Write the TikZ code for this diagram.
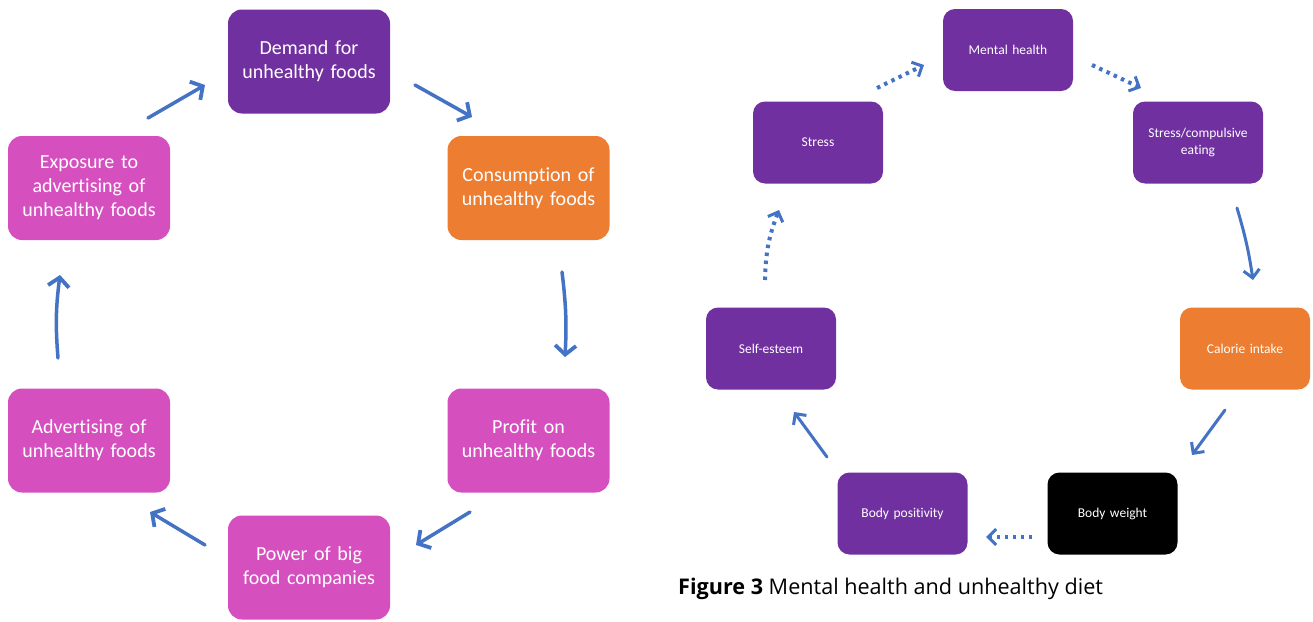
\documentclass[tikz,border=0pt]{standalone}
\usepackage{fontspec}
\setmainfont[Ligatures=NoCommon]{Carlito}
\newfontfamily\capfont{Open Sans}
\usetikzlibrary{arrows.meta,calc}
\definecolor{cpurple}{HTML}{7030A0}
\definecolor{corange}{HTML}{ED7D31}
\definecolor{cpink}{HTML}{D64FBF}
\definecolor{cblue}{HTML}{4472C4}
\begin{document}
\begin{tikzpicture}[x=1pt,y=-1pt,
  bigbox/.style={rounded corners=14pt, minimum width=162pt, minimum height=104pt,
    text width=150pt, align=center, text=white, inner sep=0pt,
    font=\fontsize{20}{24}\selectfont},
  smallbox/.style={rounded corners=12pt, minimum width=130pt, minimum height=82pt,
    text width=122pt, align=center, text=white, inner sep=0pt,
    font=\fontsize{13.5}{17}\selectfont},
  bigarr/.style={cblue, line width=3.5pt, line cap=round,
    -{Straight Barb[length=9pt,width=21pt,line width=3.8pt]}},
  smallarr/.style={cblue, line width=3pt, line cap=round,
    -{Straight Barb[length=8pt,width=16pt,line width=3pt]}},
  dotarr/.style={cblue, line width=4pt, dash pattern=on 3.5pt off 4.5pt,
    -{Straight Barb[length=8pt,width=16pt,line width=3pt]}}
]
\useasboundingbox (0,0) rectangle (1313,621);
\fill[white] (0,0) rectangle (1313,621);

% left diagram
\node[bigbox, fill=cpurple] (dem) at (309,61.5) {Demand for\\unhealthy foods};
\node[bigbox, fill=corange] (con) at (528.5,188) {Consumption of\\unhealthy foods};
\node[bigbox, fill=cpink] (exp) at (89,188) {Exposure to\\advertising of\\unhealthy foods};
\node[bigbox, fill=cpink] (adv) at (89,440.5) {Advertising of\\unhealthy foods};
\node[bigbox, fill=cpink] (pro) at (528.5,440.5) {Profit on\\unhealthy foods};
\node[bigbox, fill=cpink] (pow) at (309,567.5) {Power of big\\food companies};

\draw[bigarr] ($(exp.center)+(59,-70)$) -- ($(dem.center)+(-104,23.5)$);
\draw[bigarr] ($(dem.center)+(106,23.5)$) -- ($(con.center)+(-56.5,-71)$);
\draw[bigarr] ($(con.center)+(33.5,84)$) to[bend left=5] ($(pro.center)+(36.5,-83.5)$);
\draw[bigarr] ($(pro.center)+(-58.5,71.5)$) -- ($(pow.center)+(107,-22.5)$);
\draw[bigarr] ($(pow.center)+(-104,-22.5)$) -- ($(adv.center)+(61,71.5)$);
\draw[bigarr] ($(adv.center)+(-31,-82.5)$) to[bend left=6] ($(exp.center)+(-29,87)$);

% right diagram
\node[smallbox, fill=cpurple] (men) at (1008,50) {Mental health};
\node[smallbox, fill=cpurple] (str) at (818,142.5) {Stress};
\node[smallbox, fill=cpurple] (sce) at (1198,142.5) {Stress/compulsive\\eating};
\node[smallbox, fill=cpurple] (sel) at (771,348.5) {Self-esteem};
\node[smallbox, fill=corange] (cal) at (1245,348.5) {Calorie intake};
\node[smallbox, fill=cpurple] (bpo) at (902.5,513.5) {Body positivity};
\node[smallbox, fill=black] (bwe) at (1112.5,513.5) {Body weight};

\draw[dotarr] ($(str.center)+(59,-54.5)$) -- ($(men.center)+(-84,15)$);
\draw[dotarr] ($(men.center)+(84,15)$) -- ($(sce.center)+(-57,-54.5)$);
\draw[smallarr] ($(sce.center)+(39,65.5)$) to[bend left=4] ($(cal.center)+(8,-68.5)$);
\draw[smallarr] ($(cal.center)+(-20,61.5)$) -- ($(bwe.center)+(79.5,-58.5)$);
\draw[dotarr] ($(bwe.center)+(-80.5,23.5)$) -- ($(bpo.center)+(83.5,23.5)$);
\draw[smallarr] ($(bpo.center)+(-75.5,-56.5)$) -- ($(sel.center)+(23,63.5)$);
\draw[dotarr] ($(sel.center)+(-6,-68.5)$) to[bend left=10] ($(str.center)+(-39,67.5)$);

\node[anchor=base west, inner sep=0pt, font=\capfont\fontsize{21.6}{26}\selectfont] (cap) at (678,594)
  {\textbf{Figure 3} Mental health and unhealthy diet};
\end{tikzpicture}
\end{document}
